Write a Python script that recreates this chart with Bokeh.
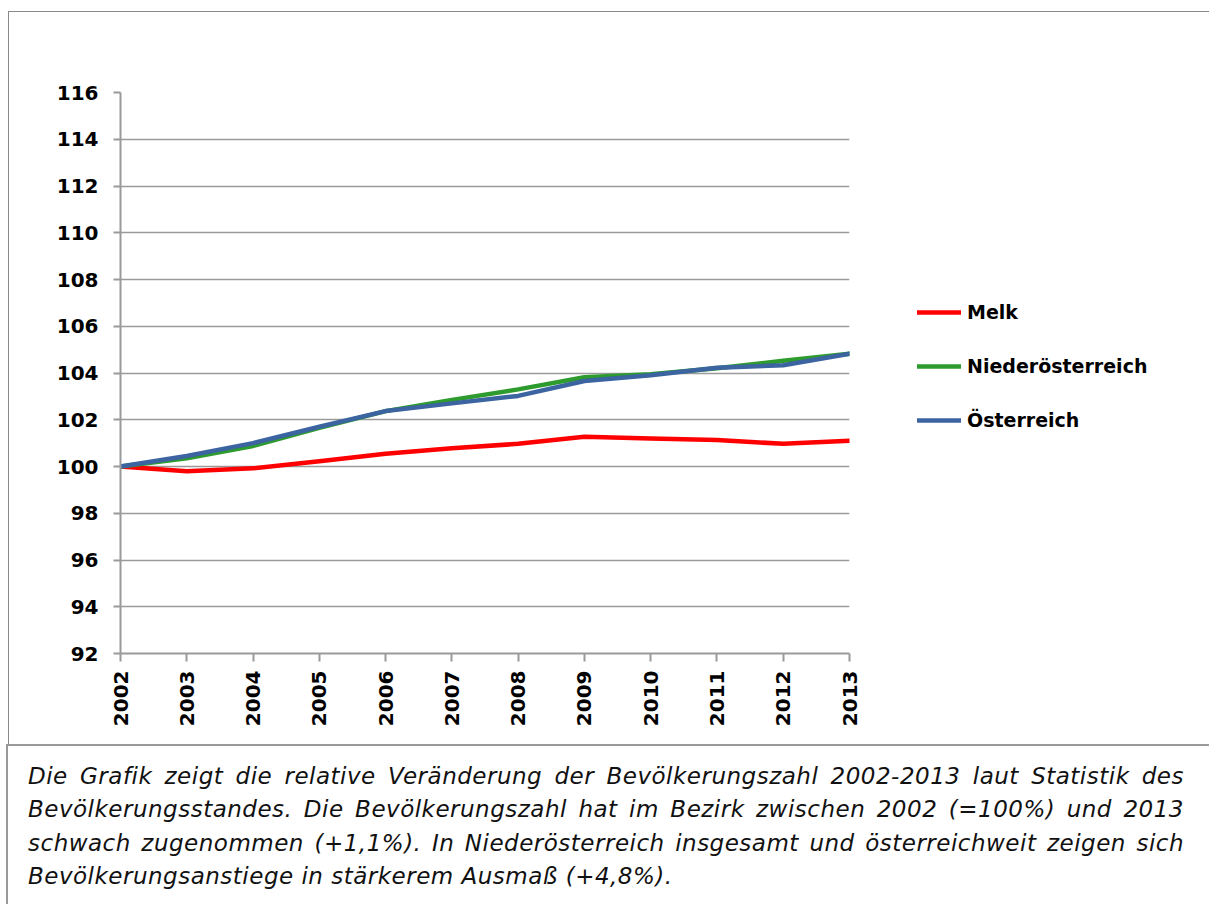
from bokeh.plotting import figure
from bokeh.models import (Range1d, FixedTicker, Legend, LegendItem, Div)
from bokeh.layouts import column
from bokeh.embed import file_html
from bokeh.resources import INLINE
import math

years = [2002, 2003, 2004, 2005, 2006, 2007, 2008, 2009, 2010, 2011, 2012, 2013]
melk = [100.0, 99.8, 99.92, 100.22, 100.55, 100.78, 100.97, 101.27, 101.2, 101.13, 100.97, 101.1]
niederoesterreich = [100.0, 100.35, 100.88, 101.65, 102.37, 102.85, 103.3, 103.82, 103.95, 104.2, 104.52, 104.82]
oesterreich = [100.0, 100.45, 101.0, 101.7, 102.37, 102.7, 103.02, 103.66, 103.9, 104.22, 104.33, 104.82]
series_names = ["Melk", "Niederösterreich", "Österreich"]
series_colors = ["#FF0000", "#2D9B2D", "#3B64A0"]
y_ticks = [92, 94, 96, 98, 100, 102, 104, 106, 108, 110, 112, 114, 116]
caption = ("Die Grafik zeigt die relative Veränderung der Bevölkerungszahl 2002-2013 laut Statistik des "
           "Bevölkerungsstandes. Die Bevölkerungszahl hat im Bezirk zwischen 2002 (=100%) und 2013 "
           "schwach zugenommen (+1,1%). In Niederösterreich insgesamt und österreichweit zeigen sich "
           "Bevölkerungsanstiege in stärkerem Ausmaß (+4,8%).")

FONT = "DejaVu Sans"
GRAY = "#9a9a9a"

p = figure(frame_width=728, frame_height=560, output_backend="svg", toolbar_location=None,
           x_range=Range1d(years[0], years[-1]), y_range=Range1d(y_ticks[0], y_ticks[-1]),
           min_border_left=111, min_border_top=80, min_border_right=37, min_border_bottom=92)
p.margin = (11, 0, 0, 8)
p.styles = {"border-top": "1px solid #8a8a8a", "border-left": "1px solid #8a8a8a"}
p.outline_line_color = None
p.background_fill_color = "white"
p.border_fill_color = "white"

p.xgrid.grid_line_color = None
p.ygrid.grid_line_color = GRAY
p.ygrid.grid_line_width = 1.5
p.yaxis.ticker = FixedTicker(ticks=y_ticks)
p.xaxis.ticker = FixedTicker(ticks=years)

for ax in (p.xaxis[0], p.yaxis[0]):
    ax.axis_line_color = GRAY
    ax.axis_line_width = 2
    ax.major_tick_line_color = GRAY
    ax.major_tick_line_width = 2
    ax.minor_tick_line_color = None
    ax.major_tick_in = 0
    ax.major_label_text_font = FONT
    ax.major_label_text_font_style = "bold"
    ax.major_label_text_font_size = "20px"
    ax.major_label_text_color = "black"

p.yaxis.major_tick_out = 7
p.yaxis.major_label_standoff = 15
p.xaxis.major_tick_out = 8
p.xaxis.major_label_standoff = 9
p.xaxis.major_label_orientation = math.pi / 2

renderers = []
for vals, color in zip([melk, niederoesterreich, oesterreich], series_colors):
    r = p.line(years, vals, line_color=color, line_width=4.5, line_join="round", line_cap="round")
    renderers.append(r)

legend = Legend(items=[LegendItem(label=n, renderers=[r]) for n, r in zip(series_names, renderers)],
                location=(68, 222), padding=0, margin=0, spacing=32,
                glyph_width=44, glyph_height=20, label_height=20, label_standoff=6,
                label_text_font=FONT, label_text_font_style="bold", label_text_font_size="19px",
                label_text_color="black",
                border_line_color=None, background_fill_alpha=0)
p.add_layout(legend, "right")

div = Div(text=('<div style="font-family:\'DejaVu Sans\';font-style:italic;font-size:23px;'
                'letter-spacing:0.5px;line-height:33.3px;text-align:justify;color:#111;'
                'padding:14px 25px 0 20px;">' + caption + '</div>'),
          width=1203, height=160, margin=(0, 0, 0, 6),
          styles={"border-top": "2px solid " + GRAY, "border-left": "2px solid " + GRAY,
                  "box-sizing": "border-box", "background": "white"})

layout = column(p, div, spacing=0)
open("out.html", "w").write(file_html(layout, INLINE))
